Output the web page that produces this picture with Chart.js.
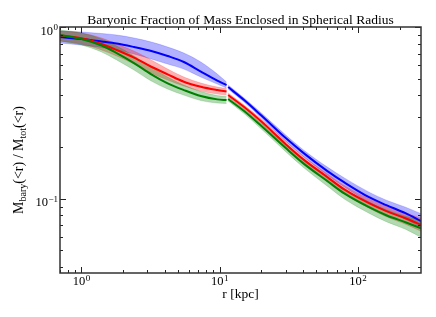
<!DOCTYPE html>
<html><head><meta charset="utf-8">
<script src="https://cdn.jsdelivr.net/npm/chart.js@4/dist/chart.umd.min.js"></script>
<style>html,body{margin:0;padding:0;background:#fff;}#wrap{width:436px;height:317px;}</style>
</head><body><div id="wrap"><canvas id="c" width="436" height="317"></canvas></div>
<script>
const chartTitle = 'Baryonic Fraction of Mass Enclosed in Spherical Radius';
const xTitle = 'r [kpc]';
const yTitleParts = [['M', 0], ['bary', 1], ['(<r) / M', 0], ['tot', 1], ['(<r)', 0]];
const xTickValues = [1, 10, 100];
const xTickExponents = ['0', '1', '2'];
const yTickValues = [1, 0.1];
const yTickExponents = ['0', '\u22121'];

const rInner = [0.7, 1, 1.4, 1.8, 2.4, 3.2, 4.2, 5.5, 7.3, 9.6, 11.2];
const rOuter = [11.5, 15, 20, 30, 40, 60, 80, 120, 160, 220, 285];

const blueInner   = [0.8744, 0.8511, 0.8232, 0.8013, 0.7645, 0.7246, 0.6775, 0.6251, 0.5502, 0.4876, 0.4590];
const blueInnerHi = [0.9477, 0.9351, 0.9165, 0.8982, 0.8628, 0.8177, 0.7645, 0.7053, 0.6251, 0.5321, 0.4779];
const blueInnerLo = [0.8067, 0.7853, 0.7594, 0.7343, 0.6959, 0.6508, 0.6085, 0.5690, 0.5110, 0.4652, 0.4409];
const redInner    = [0.8920, 0.8592, 0.7959, 0.7343, 0.6640, 0.5869, 0.5299, 0.4798, 0.4487, 0.4292, 0.4206];
const redInnerHi  = [0.9477, 0.9226, 0.8628, 0.7959, 0.7246, 0.6421, 0.5690, 0.5110, 0.4715, 0.4468, 0.4379];
const redInnerLo  = [0.8287, 0.7959, 0.7343, 0.6775, 0.6085, 0.5392, 0.4909, 0.4529, 0.4235, 0.4068, 0.4013];
const greenInner   = [0.8982, 0.8511, 0.7801, 0.7053, 0.6167, 0.5299, 0.4696, 0.4292, 0.3960, 0.3788, 0.3753];
const greenInnerHi = [0.9605, 0.9226, 0.8511, 0.7748, 0.6775, 0.5846, 0.5110, 0.4590, 0.4206, 0.3986, 0.3933];
const greenInnerLo = [0.8287, 0.7853, 0.7149, 0.6421, 0.5614, 0.4843, 0.4350, 0.4013, 0.3728, 0.3605, 0.3581];

const blueOuter   = [0.4468, 0.3753, 0.3048, 0.2253, 0.1854, 0.1447, 0.1240, 0.1020, 0.0917, 0.0823, 0.0739];
const blueOuterHi = [0.4590, 0.3855, 0.3151, 0.2346, 0.1930, 0.1527, 0.1317, 0.1091, 0.0980, 0.0892, 0.0818];
const blueOuterLo = [0.4350, 0.3653, 0.2947, 0.2164, 0.1769, 0.1371, 0.1167, 0.0954, 0.0851, 0.0759, 0.0682];
const redOuter    = [0.4013, 0.3416, 0.2812, 0.2078, 0.1700, 0.1335, 0.1128, 0.0941, 0.0846, 0.0769, 0.0705];
const redOuterHi  = [0.4122, 0.3509, 0.2908, 0.2164, 0.1769, 0.1399, 0.1191, 0.1000, 0.0904, 0.0829, 0.0769];
const redOuterLo  = [0.3907, 0.3325, 0.2719, 0.1996, 0.1622, 0.1265, 0.1062, 0.0880, 0.0785, 0.0710, 0.0646];
const greenOuter   = [0.3804, 0.3237, 0.2647, 0.1970, 0.1611, 0.1265, 0.1069, 0.0892, 0.0801, 0.0729, 0.0673];
const greenOuterHi = [0.3907, 0.3325, 0.2737, 0.2051, 0.1688, 0.1335, 0.1136, 0.0954, 0.0863, 0.0790, 0.0749];
const greenOuterLo = [0.3703, 0.3130, 0.2543, 0.1879, 0.1527, 0.1183, 0.0993, 0.0823, 0.0734, 0.0664, 0.0596];

const X_MIN = 0.7, X_MAX = 285, Y_MIN = 0.0369, Y_MAX = 1;

function pts(r, v) { return r.map((x, i) => ({x: x, y: v[i]})); }

const series = [
  {line: '#0000ff', band: 'rgba(0,0,255,0.3)', parts: [[rInner, blueInner, blueInnerLo, blueInnerHi], [rOuter, blueOuter, blueOuterLo, blueOuterHi]]},
  {line: '#ff0000', band: 'rgba(255,0,0,0.3)', parts: [[rInner, redInner, redInnerLo, redInnerHi], [rOuter, redOuter, redOuterLo, redOuterHi]]},
  {line: '#008000', band: 'rgba(0,128,0,0.3)', parts: [[rInner, greenInner, greenInnerLo, greenInnerHi], [rOuter, greenOuter, greenOuterLo, greenOuterHi]]}
];

const datasets = [];
series.forEach((s, si) => {
  s.parts.forEach(p => {
    datasets.push({data: pts(p[0], p[2]), borderColor: s.band, borderWidth: 0.6, fill: false, order: 20 - si * 2});
    datasets.push({data: pts(p[0], p[3]), borderColor: s.band, borderWidth: 0.6, backgroundColor: s.band, fill: '-1', order: 20 - si * 2});
  });
});
series.forEach((s, si) => {
  s.parts.forEach(p => {
    datasets.push({data: pts(p[0], p[1]), borderColor: s.line, borderWidth: 2, fill: false, order: 10 - si});
  });
});

const SERIF = '"Liberation Serif", "DejaVu Serif", serif';

function powLabel(ctx, exp, x, baseline, align) {
  ctx.font = '12.5px ' + SERIF;
  const wb = ctx.measureText('10').width;
  ctx.font = '9px ' + SERIF;
  const we = ctx.measureText(exp).width;
  const total = wb + we + 0.5;
  let x0 = align === 'center' ? x - total / 2 : x - total;
  ctx.textAlign = 'left';
  ctx.textBaseline = 'alphabetic';
  ctx.font = '12.5px ' + SERIF;
  ctx.fillText('10', x0, baseline);
  ctx.font = '9px ' + SERIF;
  ctx.fillText(exp, x0 + wb + 0.5, baseline - 4.5);
}

const decor = {
  id: 'decor',
  afterDraw(chart) {
    const ctx = chart.ctx, a = chart.chartArea;
    const xs = chart.scales.x, ys = chart.scales.y;
    ctx.save();
    ctx.fillStyle = '#000';
    ctx.strokeStyle = '#222';
    ctx.lineWidth = 1;
    ctx.beginPath();
    for (let e = -1; e <= 2; e++) {
      for (let k = 1; k <= 9; k++) {
        const v = k * Math.pow(10, e);
        if (v < X_MIN || v > X_MAX) continue;
        const px = Math.round(xs.getPixelForValue(v)) + 0.5;
        const len = k === 1 ? 6 : 3;
        ctx.moveTo(px, a.bottom); ctx.lineTo(px, a.bottom - len);
        ctx.moveTo(px, a.top); ctx.lineTo(px, a.top + len);
      }
    }
    for (let e = -2; e <= 0; e++) {
      for (let k = 1; k <= 9; k++) {
        const v = k * Math.pow(10, e);
        if (v < Y_MIN || v > Y_MAX) continue;
        const py = Math.round(ys.getPixelForValue(v)) + 0.5;
        const len = k === 1 ? 6 : 3;
        ctx.moveTo(a.left, py); ctx.lineTo(a.left + len, py);
        ctx.moveTo(a.right, py); ctx.lineTo(a.right - len, py);
      }
    }
    ctx.stroke();
    ctx.lineWidth = 1.5;
    ctx.strokeStyle = '#333';
    ctx.strokeRect(a.left, a.top, a.right - a.left, a.bottom - a.top);
    xTickValues.forEach((v, i) => powLabel(ctx, xTickExponents[i], xs.getPixelForValue(v), a.bottom + 12, 'center'));
    yTickValues.forEach((v, i) => powLabel(ctx, yTickExponents[i], a.left - 2, ys.getPixelForValue(v) + 7.5, 'right'));
    ctx.font = '13.5px ' + SERIF;
    ctx.textAlign = 'center';
    ctx.textBaseline = 'alphabetic';
    ctx.fillText(chartTitle, (a.left + a.right) / 2, 23.5);
    ctx.font = '13.5px ' + SERIF;
    ctx.fillText(xTitle, (a.left + a.right) / 2, 298);
    ctx.save();
    ctx.translate(23, 160);
    ctx.rotate(-Math.PI / 2);
    ctx.textAlign = 'left';
    let total = 0;
    yTitleParts.forEach(p => { ctx.font = (p[1] ? '10px ' : '14px ') + SERIF; total += ctx.measureText(p[0]).width; });
    let cx = -total / 2;
    yTitleParts.forEach(p => {
      ctx.font = (p[1] ? '10px ' : '14px ') + SERIF;
      ctx.fillText(p[0], cx, p[1] ? 3 : 0);
      cx += ctx.measureText(p[0]).width;
    });
    ctx.restore();
    ctx.restore();
  }
};

new Chart(document.getElementById('c'), {
  type: 'line',
  data: {datasets: datasets},
  options: {
    responsive: false,
    animation: false,
    devicePixelRatio: 1,
    layout: {padding: {left: 60, right: 15, top: 27, bottom: 44}},
    plugins: {legend: {display: false}, tooltip: {enabled: false}, title: {display: false}},
    elements: {point: {radius: 0}, line: {cubicInterpolationMode: 'monotone'}},
    scales: {
      x: {type: 'logarithmic', min: X_MIN, max: X_MAX, grid: {display: false}, border: {display: false}, ticks: {display: false}, afterFit(s) { s.height = 0; }},
      y: {type: 'logarithmic', min: Y_MIN, max: Y_MAX, grid: {display: false}, border: {display: false}, ticks: {display: false}, afterFit(s) { s.width = 0; }}
    }
  },
  plugins: [decor]
});
</script>
</body></html>
